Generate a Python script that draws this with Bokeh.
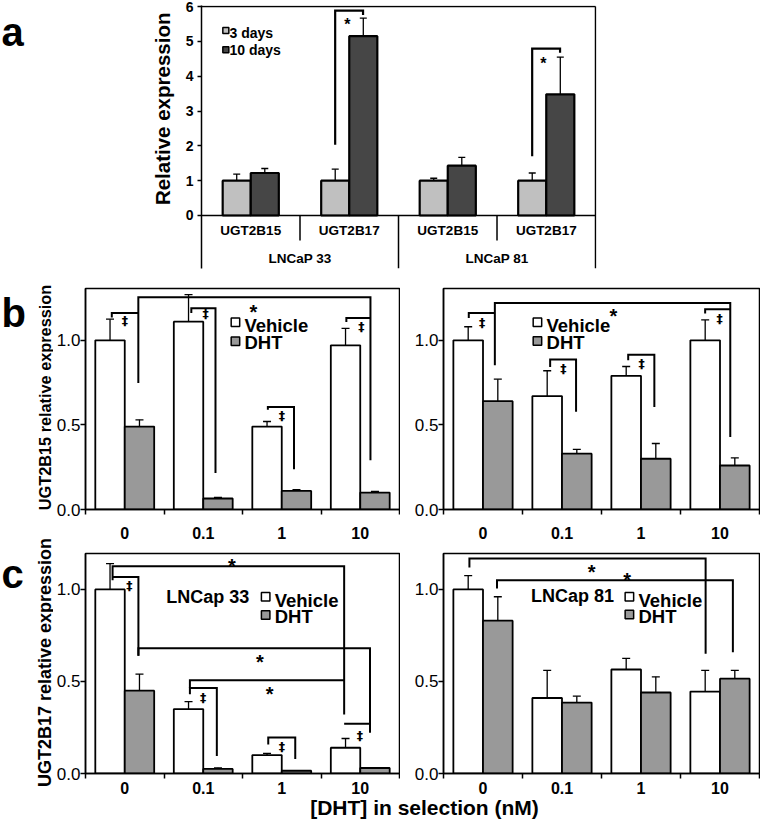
import numpy as np
from bokeh.plotting import figure
from bokeh.layouts import column, row
from bokeh.models import (ColumnDataSource, FixedTicker, Whisker, TeeHead,
                          Range1d, NumeralTickFormatter)
from bokeh.embed import file_html
from bokeh.resources import INLINE
from bokeh.core.properties import value

FONT = "Liberation Sans"

# ---------------- panel a data ----------------
a_groups = ["LNCaP 33", "LNCaP 81"]
a_genes = ["UGT2B15", "UGT2B17", "UGT2B15", "UGT2B17"]
a_series = ["3 days", "10 days"]
a_3d = [1.00, 1.00, 1.00, 1.00]
a_3d_sd = [0.19, 0.33, 0.07, 0.22]
a_10d = [1.22, 5.15, 1.43, 3.48]
a_10d_sd = [0.13, 0.52, 0.24, 1.07]
a_yticks = [0, 1, 2, 3, 4, 5, 6]
# significance brackets: (x_left, y_left_end, y_top, x_right, y_right_end)
a_brackets = [(1.357, 2.03, 5.88, 1.64, 5.76), (3.357, 1.70, 4.79, 3.64, 4.67)]
a_marks = ["*", "*"]
a_marks_x = [1.48, 3.47]
a_marks_y = [5.62, 4.52]

# ---------------- panels b / c data ----------------
doses = ["0", "0.1", "1", "10"]
dose_series = ["Vehicle", "DHT"]
bc_yticks = [0.0, 0.5, 1.0]

b15_33_veh = [1.00, 1.11, 0.49, 0.97]
b15_33_veh_sd = [0.125, 0.16, 0.03, 0.10]
b15_33_dht = [0.49, 0.065, 0.11, 0.10]
b15_33_dht_sd = [0.04, 0.007, 0.008, 0.007]

b15_81_veh = [1.00, 0.67, 0.79, 1.00]
b15_81_veh_sd = [0.08, 0.15, 0.055, 0.12]
b15_81_dht = [0.64, 0.33, 0.30, 0.26]
b15_81_dht_sd = [0.13, 0.025, 0.09, 0.045]

b17_33_veh = [1.00, 0.35, 0.10, 0.14]
b17_33_veh_sd = [0.14, 0.04, 0.009, 0.05]
b17_33_dht = [0.45, 0.025, 0.015, 0.03]
b17_33_dht_sd = [0.09, 0.006, 0.0, 0.0]

b17_81_veh = [1.00, 0.41, 0.565, 0.445]
b17_81_veh_sd = [0.075, 0.15, 0.06, 0.115]
b17_81_dht = [0.83, 0.385, 0.44, 0.515]
b17_81_dht_sd = [0.13, 0.035, 0.085, 0.045]

b15_33_brackets = [(0.673, 0.748, 1.254, 3.63, 0.291),
                   (0.335, 1.135, 1.161, 0.673, 1.161),
                   (1.348, 1.161, 1.189, 1.656, 0.216),
                   (2.323, 0.589, 0.606, 2.656, 0.238),
                   (3.323, 1.108, 1.132, 3.63, 1.132)]
b15_33_marks = ["*", "‡", "‡", "‡", "‡"]
b15_33_mx = [2.14, 0.503, 1.53, 2.50, 3.513]
b15_33_my = [1.20, 1.116, 1.16, 0.553, 1.079]

b15_81_brackets = [(0.65, 0.852, 1.22, 3.63, 0.429),
                   (0.32, 1.132, 1.161, 0.65, 1.161),
                   (1.35, 0.842, 0.886, 1.678, 0.577),
                   (2.338, 0.882, 0.915, 2.669, 0.606),
                   (3.312, 1.158, 1.183, 3.63, 1.183)]
b15_81_marks = ["*", "‡", "‡", "‡", "‡"]
b15_81_mx = [2.149, 0.488, 1.518, 2.507, 3.495]
b15_81_my = [1.177, 1.108, 0.833, 0.862, 1.128]

b17_33_brackets = [(0.345, 1.05, 1.126, 3.295, 0.321),
                   (0.345, 1.068, 1.068, 0.674, 0.64),
                   (0.674, 0.64, 0.681, 3.624, 0.222),
                   (1.33, 0.465, 0.506, 3.295, 0.506),
                   (1.33, 0.43, 0.465, 1.673, 0.095),
                   (2.328, 0.158, 0.195, 2.672, 0.079),
                   (3.295, 0.27, 0.27, 3.624, 0.27)]
b17_33_marks = ["*", "‡", "*", "*", "‡", "‡", "‡"]
b17_33_mx = [1.865, 0.559, 2.22, 2.347, 1.498, 2.503, 3.494]
b17_33_my = [1.162, 1.023, 0.636, 0.465, 0.414, 0.149, 0.209]

b17_81_brackets = [(0.328, 1.119, 1.168, 3.318, 0.65),
                   (0.677, 1.005, 1.05, 3.663, 0.658)]
b17_81_marks = ["*", "*"]
b17_81_mx = [1.876, 2.326]
b17_81_my = [1.128, 1.086]

C_3D = "#c0c0c0"
C_10D = "#464646"
C_VEH = "white"
C_DHT = "#999999"


def base_fig(w, h, xr, yr, bl, br, bt, bb, **kw):
    p = figure(width=w, height=h, x_range=Range1d(*xr), y_range=Range1d(*yr),
               output_backend="svg", toolbar_location=None, title=None,
               min_border_left=bl, min_border_right=br, min_border_top=bt,
               min_border_bottom=bb, **kw)
    p.xgrid.visible = False
    p.ygrid.visible = False
    p.background_fill_color = "white"
    p.border_fill_color = "white"
    return p


def txt(p, x, y, t, size, bold=True, align="center", baseline="middle",
        yoff=0, angle=0.0, font=FONT):
    p.text(x=list(x), y=list(y), text=list(t), text_font=value(font),
           text_font_size=size, text_font_style="bold" if bold else "normal",
           text_align=align, text_baseline=baseline, text_color="black",
           y_offset=yoff, angle=angle)


def strip(w, h):
    """Text-only margin figure whose frame is the whole canvas (pixel coords, y up)."""
    s = base_fig(w, h, (0, w), (0, h), 0, 0, 0, 0,
                 x_axis_location=None, y_axis_location=None)
    s.outline_line_color = None
    return s


def whiskers(p, x, v, sd, head):
    x = np.asarray(x, float)
    v = np.asarray(v, float)
    sd = np.asarray(sd, float)
    m = sd > 0
    src = ColumnDataSource(dict(base=x[m], lower=v[m], upper=(v + sd)[m]))
    w = Whisker(source=src, base="base", lower="lower", upper="upper",
                dimension="height", line_color="black", line_width=1.3,
                lower_head=None,
                upper_head=TeeHead(size=head, line_color="black", line_width=1.3),
                level="annotation")
    p.add_layout(w)


def brackets(p, br, width=2):
    xs = [[b[0], b[0], b[3], b[3]] for b in br]
    ys = [[b[1], b[2], b[2], b[4]] for b in br]
    p.multi_line(xs=xs, ys=ys, line_color="black", line_width=width,
                 line_join="miter")


def marks(p, m, mx, my, star_size, dag_size):
    st = [i for i, s in enumerate(m) if s == "*"]
    dg = [i for i, s in enumerate(m) if s != "*"]
    if st:
        txt(p, [mx[i] for i in st], [my[i] for i in st], [m[i] for i in st],
            star_size, yoff=6)
    if dg:
        txt(p, [mx[i] for i in dg], [my[i] for i in dg], [m[i] for i in dg],
            dag_size, font="DejaVu Sans")


# ================= row a =================
HA = 280
A_STRIP = 180
a_ybot, a_ytop = -1.522, 6.03
pa = base_fig(760 - A_STRIP, HA, (0, 4.01), (a_ybot, a_ytop), 21, 164, 5, 12,
              x_axis_location=None)
pa.outline_line_color = None
ya = pa.yaxis[0]
ya.ticker = FixedTicker(ticks=a_yticks)
ya.axis_line_width = 1.5
ya.axis_line_color = "black"
ya.major_tick_out = 4
ya.major_tick_in = 0
ya.major_tick_line_width = 1.5
ya.minor_tick_out = 0
ya.minor_tick_in = 0
ya.major_label_standoff = 4
ya.major_label_text_font = FONT
ya.major_label_text_font_size = "14px"
ya.major_label_text_font_style = "bold"
ya.major_label_text_color = "black"

ax = np.arange(len(a_genes)) + 0.5
pa.vbar(x=ax - 0.1425, top=a_3d, width=0.285, fill_color=C_3D,
        line_color="black", line_width=2.2)
pa.vbar(x=ax + 0.1425, top=a_10d, width=0.285, fill_color=C_10D,
        line_color="black", line_width=2.2)
whiskers(pa, ax - 0.1425, a_3d, a_3d_sd, 7)
whiskers(pa, ax + 0.1425, a_10d, a_10d_sd, 7)

n = len(a_genes)
seg_x0 = [0, 0, n, 1, 3, 2]
seg_y0 = [0, 6, 6, 0, 0, 0]
seg_x1 = [n, n, n, 1, 3, 2]
seg_y1 = [0, 6, a_ybot, -0.718, -0.718, a_ybot]
pa.segment(x0=seg_x0, y0=seg_y0, x1=seg_x1, y1=seg_y1, line_color="black",
           line_width=1.5)
txt(pa, ax, [-0.431] * n, a_genes, "13.5px")
txt(pa, [1.0, 3.0], [-1.235, -1.235], a_groups, "13.5px")
brackets(pa, a_brackets, 2.2)
txt(pa, a_marks_x, a_marks_y, a_marks, "16px", yoff=5)
pa.scatter(x=[0.247, 0.247], y=[5.31, 4.76], marker="square", size=6,
           fill_color=[C_3D, C_10D], line_color="black", line_width=1.5)
txt(pa, [0.284, 0.284], [5.243, 4.738], a_series, "14px", align="left")

sa = strip(A_STRIP, HA)
txt(sa, [1], [HA - 28], ["a"], "40px", align="left", baseline="alphabetic")
txt(sa, [162], [HA - 110], ["Relative expression"], "20.5px",
    angle=np.pi / 2)


# ================= rows b / c =================
def dose_panel(w, h, bl, br, bt, bb, ymax, veh, veh_sd, dht, dht_sd, brk,
               mk, mx, my, leg_x, leg_y, leg_dy, standoff, cell=None):
    p = base_fig(w, h, (0, 4), (0, ymax), bl, br, bt, bb)
    p.outline_line_color = "black"
    p.outline_line_width = 1.5
    idx = np.arange(len(doses))
    xv = idx + 0.3125
    xd = idx + 0.6875
    p.vbar(x=xv, top=veh, width=0.375, fill_color=C_VEH, line_color="black",
           line_width=1.8)
    p.vbar(x=xd, top=dht, width=0.375, fill_color=C_DHT, line_color="black",
           line_width=1.8)
    whiskers(p, xv, veh, veh_sd, 8)
    whiskers(p, xd, dht, dht_sd, 8)
    brackets(p, brk, 2)
    marks(p, mk, mx, my, "20px", "12.5px")

    xa = p.xaxis[0]
    xa.ticker = FixedTicker(ticks=[float(i + 0.5) for i in idx],
                            minor_ticks=[float(i) for i in range(len(doses) + 1)])
    xa.major_label_overrides = {float(i + 0.5): d for i, d in enumerate(doses)}
    xa.major_tick_out = 0
    xa.major_tick_in = 0
    xa.minor_tick_out = 5
    xa.minor_tick_in = 0
    xa.minor_tick_line_color = "black"
    xa.minor_tick_line_width = 1.5
    xa.axis_line_width = 1.5
    xa.axis_line_color = "black"
    xa.major_label_standoff = standoff
    xa.major_label_text_font = FONT
    xa.major_label_text_font_size = "16px"
    xa.major_label_text_font_style = "bold"
    xa.major_label_text_color = "black"

    ya = p.yaxis[0]
    ya.ticker = FixedTicker(ticks=bc_yticks)
    ya.formatter = NumeralTickFormatter(format="0.0")
    ya.major_tick_out = 5
    ya.major_tick_in = 0
    ya.major_tick_line_width = 1.5
    ya.minor_tick_out = 0
    ya.minor_tick_in = 0
    ya.axis_line_width = 1.5
    ya.axis_line_color = "black"
    ya.major_label_standoff = 0
    ya.major_label_text_font = FONT
    ya.major_label_text_font_size = "17px"
    ya.major_label_text_color = "black"

    # legend
    p.scatter(x=[leg_x, leg_x], y=[leg_y, leg_y - leg_dy], marker="square",
              size=8.5, fill_color=[C_VEH, C_DHT], line_color="black",
              line_width=1.5)
    tx = leg_x + 0.115
    txt(p, [tx, tx], [leg_y - 0.02, leg_y - leg_dy - 0.01], dose_series,
        "18.5px", align="left")
    if cell is not None:
        txt(p, [cell[1]], [cell[2]], [cell[0]], "18px", align="left")
    return p


BC_STRIP = 53
HB, HC = 265, 251
pbl = dose_panel(400 - BC_STRIP, HB, 30, 1, 8, 36, 1.306, b15_33_veh,
                 b15_33_veh_sd, b15_33_dht, b15_33_dht_sd, b15_33_brackets,
                 b15_33_marks, b15_33_mx, b15_33_my, 1.91, 1.107, 0.112, 12)
pbr = dose_panel(360, HB, 43, 1, 8, 36, 1.306, b15_81_veh, b15_81_veh_sd,
                 b15_81_dht, b15_81_dht_sd, b15_81_brackets, b15_81_marks,
                 b15_81_mx, b15_81_my, 1.189, 1.107, 0.111, 12)
pcl = dose_panel(400 - BC_STRIP, HC, 30, 1, 8, 22, 1.195, b17_33_veh,
                 b17_33_veh_sd, b17_33_dht, b17_33_dht_sd, b17_33_brackets,
                 b17_33_marks, b17_33_mx, b17_33_my, 2.295, 0.96, 0.099, 3,
                 cell=("LNCap 33", 1.028, 0.96))
pcr = dose_panel(360, HC, 43, 1, 8, 22, 1.195, b17_81_veh, b17_81_veh_sd,
                 b17_81_dht, b17_81_dht_sd, b17_81_brackets, b17_81_marks,
                 b17_81_mx, b17_81_my, 2.353, 0.96, 0.097, 3,
                 cell=("LNCap 81", 1.107, 0.964))

# one left margin strip spanning rows b and c (texts may cross the row boundary)
HBC = HB + HC
sbc = strip(BC_STRIP, HBC)
txt(sbc, [1], [HBC - 32], ["b"], "40px", align="left", baseline="alphabetic")
txt(sbc, [44], [HBC - 117], ["UGT2B15 relative expression"], "16.3px",
    angle=np.pi / 2)
txt(sbc, [1], [HBC - HB - 28], ["c"], "40px", align="left",
    baseline="alphabetic")
txt(sbc, [44], [HBC - HB - 117], ["UGT2B17 relative expression"], "18px",
    angle=np.pi / 2)

# ================= shared x title =================
HD = 29
sd_ = strip(760, HD)
txt(sd_, [424], [HD - 10.5], ["[DHT] in selection (nM)"], "21px")

layout = column(row(sa, pa),
                row(sbc, column(row(pbl, pbr), row(pcl, pcr))),
                sd_)

open("out.html", "w").write(file_html(layout, INLINE))
